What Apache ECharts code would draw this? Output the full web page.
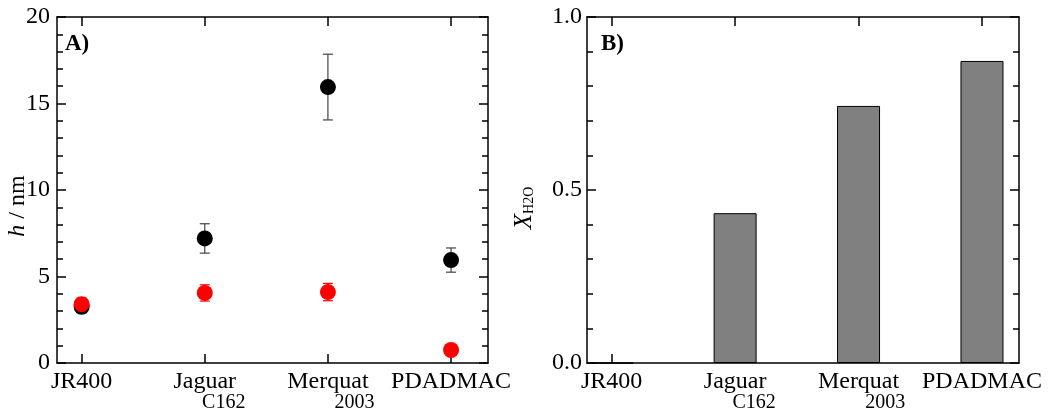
<!DOCTYPE html>
<html>
<head>
<meta charset="utf-8">
<script src="https://cdn.jsdelivr.net/npm/echarts@6/dist/echarts.min.js"></script>
<style>
html,body{margin:0;padding:0;background:#fff;}
#c{width:1051px;height:413px;}
</style>
</head>
<body>
<div id="c"></div>
<script>
// ---- data ----
const categories = ['JR400', 'Jaguar', 'Merquat', 'PDADMAC'];
const categorySubs = ['', 'C162', '2003', ''];
const hBlack = [3.25, 7.2, 15.95, 5.95];
const hBlackErr = [0.35, 0.85, 1.9, 0.7];
const hRed = [3.4, 4.05, 4.1, 0.75];
const hRedErr = [0.35, 0.47, 0.5, 0];
const xH2O = [0, 0.433, 0.743, 0.873];

const FONT = "'Liberation Serif','Times New Roman',serif";
const idx = categories.map((c, i) => i);

const mctx = document.createElement('canvas').getContext('2d');
function tw(t, size) { mctx.font = size + 'px ' + FONT; return mctx.measureText(t).width; }

const rich = { m: { fontSize: 24, fontFamily: FONT, color: '#000', lineHeight: 22 } };
categories.forEach((c, i) => {
  if (categorySubs[i]) {
    const mw = tw(c, 24), sw = tw(categorySubs[i], 20);
    rich['s' + i] = { fontSize: 20, fontFamily: FONT, color: '#000', lineHeight: 20,
      padding: [0, 0, 0, Math.max(0, mw - 68 + sw)] };
  }
});
function catFormatter(v) {
  const i = Math.round(v);
  if (categorySubs[i]) return '{m|' + categories[i] + '}\n{s' + i + '|' + categorySubs[i] + '}';
  return '{m|' + categories[i] + '}';
}

const axLine = { show: true, onZero: false, lineStyle: { color: '#000', width: 1.5 } };
function xAx(gi, top) {
  return {
    type: 'value', gridIndex: gi, position: top ? 'top' : 'bottom',
    min: -0.2, max: 3.3, splitLine: { show: false },
    axisLine: axLine,
    axisTick: { show: true, inside: true, length: 9, lineStyle: { color: '#000', width: 1.5 }, customValues: idx },
    axisLabel: top ? { show: false } : {
      show: true, customValues: idx, formatter: catFormatter, margin: 8,
      rich: rich, color: '#000'
    },
    minorTick: { show: false }
  };
}
function yAx(gi, right, min, max, interval, dec) {
  return {
    type: 'value', gridIndex: gi, position: right ? 'right' : 'left',
    min: min, max: max, interval: interval, splitLine: { show: false },
    axisLine: axLine,
    axisTick: { show: true, inside: true, length: 9, lineStyle: { color: '#000', width: 1.5 } },
    minorTick: { show: true, splitNumber: 5, length: 6, lineStyle: { color: '#000', width: 1.5 } },
    axisLabel: right ? { show: false } : {
      show: true, fontSize: 24, fontFamily: FONT, color: '#000', margin: dec ? 5 : 7,
      formatter: v => dec ? v.toFixed(1) : String(v)
    }
  };
}

function errSeries(vals, errs, color) {
  return {
    type: 'custom', xAxisIndex: 0, yAxisIndex: 0, z: 2,
    data: idx.filter(i => errs[i] > 0).map(i => [i, vals[i] - errs[i], vals[i] + errs[i]]),
    renderItem: function (params, api) {
      const x = api.value(0);
      const p1 = api.coord([x, api.value(2)]);
      const p2 = api.coord([x, api.value(1)]);
      const st = { stroke: color, lineWidth: 1.2 };
      return {
        type: 'group', children: [
          { type: 'line', shape: { x1: p1[0], y1: p1[1], x2: p2[0], y2: p2[1] }, style: st },
          { type: 'line', shape: { x1: p1[0] - 5, y1: p1[1], x2: p1[0] + 5, y2: p1[1] }, style: st },
          { type: 'line', shape: { x1: p2[0] - 5, y1: p2[1], x2: p2[0] + 5, y2: p2[1] }, style: st }
        ]
      };
    }
  };
}

const chart = echarts.init(document.getElementById('c'), null, { renderer: 'canvas' });
chart.setOption({
  animation: false,
  backgroundColor: '#fff',
  textStyle: { fontFamily: FONT },
  grid: [
    { left: 57, right: 563, top: 17, bottom: 50 },
    { left: 587, right: 32, top: 17, bottom: 50 }
  ],
  xAxis: [xAx(0, false), xAx(0, true), xAx(1, false), xAx(1, true)],
  yAxis: [yAx(0, false, 0, 20, 5, false), yAx(0, true, 0, 20, 5, false),
          yAx(1, false, 0, 1, 0.5, true), yAx(1, true, 0, 1, 0.5, true)],
  series: [
    errSeries(hBlack, hBlackErr, '#444'),
    { type: 'scatter', xAxisIndex: 0, yAxisIndex: 0, z: 3, symbol: 'circle', symbolSize: 16,
      itemStyle: { color: '#000', opacity: 1 }, data: idx.map(i => [i, hBlack[i]]) },
    errSeries(hRed, hRedErr, '#ff0000'),
    { type: 'scatter', xAxisIndex: 0, yAxisIndex: 0, z: 4, symbol: 'circle', symbolSize: 16,
      itemStyle: { color: '#ff0000', opacity: 1 }, data: idx.map(i => [i, hRed[i]]) },
    { type: 'bar', xAxisIndex: 2, yAxisIndex: 2, barWidth: 43,
      itemStyle: { color: '#808080', borderColor: '#000', borderWidth: 1 },
      data: idx.map(i => [i, xH2O[i]]) }
  ],
  graphic: [
    { type: 'text', left: 65, top: 33, style: { text: 'A)', font: 'bold 23px ' + FONT, fill: '#000' } },
    { type: 'text', left: 601, top: 33, style: { text: 'B)', font: 'bold 23px ' + FONT, fill: '#000' } },
    { type: 'text', x: 18, y: 206, rotation: Math.PI / 2,
      style: { text: '{i|h} / nm', align: 'center', verticalAlign: 'middle', fill: '#000',
        rich: { i: { fontSize: 24, fontFamily: FONT, fontStyle: 'italic', fill: '#000' } },
        font: '24px ' + FONT } },
    { type: 'text', x: 524, y: 208, rotation: Math.PI / 2,
      style: { text: '{x|X}{s|H2O}', align: 'center', verticalAlign: 'middle', fill: '#000',
        rich: { x: { fontSize: 25, fontFamily: FONT, fontStyle: 'italic', fill: '#000', lineHeight: 24, verticalAlign: 'middle' },
                s: { fontSize: 14, fontFamily: FONT, fill: '#000', padding: [14, 0, 0, 0], lineHeight: 24, verticalAlign: 'bottom' } } } }
  ]
});
</script>
</body>
</html>
